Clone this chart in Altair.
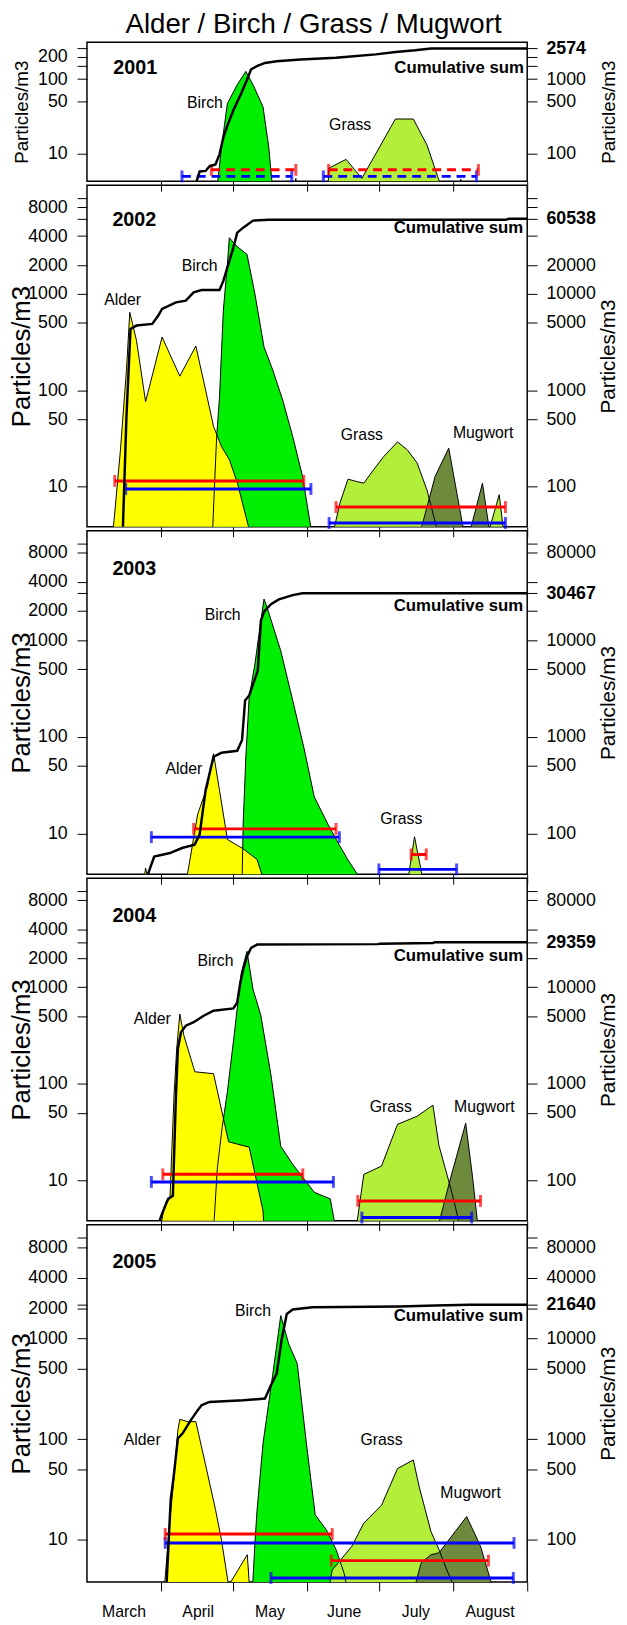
import altair as alt
import pandas as pd

FONT = "Liberation Sans"
COL = {"Alder": "#FFFF00", "Birch": "#00EE00", "Grass": "#B3EE3A", "Mugwort": "#6E8B3D"}

# x = days since 1 March
month_names = ["March", "April", "May", "June", "July", "August", ""]
month_starts = [0, 31, 61, 92, 122, 153, 184]

# ---------------- 2001 ----------------
birch01_d = [54.2, 56.2, 58.7, 62.8, 66.4, 69.4, 73.6, 76.0, 77.7, 86.3, 87.3, 87.9]
birch01_v = [3, 12, 47, 84, 127, 84, 42, 12, 3, 3, 4.6, 3]
grass01_d = [100.8, 101.0, 108.3, 114.9, 128.9, 136.4, 142.1, 148.8, 155.5, 156.2, 157.0]
grass01_v = [3, 6.3, 8.3, 4.6, 29, 29, 13, 3, 3, 4.5, 3]
cum01_d = [40.0, 45.8, 47.1, 49.6, 51.2, 53.7, 55.4, 57.0, 58.7, 61.2, 64.5, 66.9, 68.6, 71.0,
           74.4, 79.3, 89.3, 104.0, 109.0, 120.7, 129.0, 137.2, 143.8, 184]
cum01_v = [30, 42, 57, 58, 67, 71, 97, 164, 237, 380, 644, 980, 1350, 1490,
           1650, 1740, 1840, 1940, 2000, 2150, 2320, 2440, 2574, 2574]
red01 = [(52.0, 87.3, 6.0), (101.0, 163.6, 6.0)]
blue01 = [(39.7, 85.6, 4.9), (98.8, 162.8, 4.9)]

# ---------------- 2002 ----------------
alder02_d = [10.7, 14.0, 16.5, 17.9, 20.7, 24.5, 31.4, 38.8, 45.5, 49.6, 52.9, 56.2, 59.5, 62.8, 68.6]
alder02_v = [3, 24, 161, 645, 329, 76, 357, 140, 288, 100, 42, 26, 19, 11, 3]
birch02_d = [52.4, 54.2, 55.4, 57.0, 58.7, 59.5, 62.5, 66.9, 70.2, 74.0, 77.7, 81.8, 86.0, 90.1, 94.2]
birch02_v = [3, 33, 85, 676, 2040, 3850, 3160, 2580, 1000, 281, 161, 79, 33, 12.7, 3]
grass02_d = [102.5, 105.8, 109.1, 112.4, 115.7, 119.8, 124.0, 129.8, 133.9, 138.0, 142.1, 147.1,
             167.3, 172.3, 174.4]
grass02_v = [3, 6.8, 11.9, 11.3, 10.8, 14.9, 20.4, 29, 24, 17.5, 9.2, 3, 3, 8.2, 3]
mugwort02_d = [138.8, 145.5, 151.2, 157.9, 159.5, 165.3, 168.6]
mugwort02_v = [3, 12.7, 25, 3, 3, 10.8, 3]
cum02_d = [14.9, 16.5, 18.2, 20.7, 27.3, 29.8, 31.4, 37.2, 41.3, 44.6, 47.9, 55.4, 57.0, 58.7,
           61.2, 62.8, 65.3, 69.4, 76.0, 175.0, 176.5, 184]
cum02_v = [30, 530, 4340, 4700, 4890, 5970, 7000, 8200, 8520, 10400, 11000, 11000, 13700, 18900,
           30400, 43500, 49000, 58000, 59300, 59300, 60538, 60538]
red02 = [(11.6, 90.6, 11.4), (104.1, 174.9, 6.1)]
blue02 = [(16.2, 93.6, 9.4), (101.2, 174.9, 4.17)]

# ---------------- 2003 ----------------
alder03_d = [23.5, 24.5, 26.0, 41.3, 46.3, 50.4, 52.9, 55.4, 58.7, 64.8, 71.1, 74.4]
alder03_v = [3, 4.4, 3, 3, 16, 31, 67, 28, 8.7, 7.1, 5.4, 3]
birch03_d = [64.8, 65.3, 66.4, 67.8, 70.2, 71.9, 74.0, 76.0, 81.0, 86.0, 90.9, 95.0, 100.8, 105.0, 109.0, 115.7]
birch03_v = [3, 12.9, 62, 257, 566, 1150, 2660, 1920, 775, 238, 73, 24, 12.4, 8, 5.4, 3]
grass03_d = [133.9, 136.9, 140.8]
grass03_v = [3, 9.3, 3]
cum03_d = [24.0, 28.1, 34.7, 39.7, 45.0, 47.1, 49.6, 52.9, 56.2, 62.8, 64.8, 66.1, 67.8, 71.4,
           72.7, 74.0, 76.9, 80.2, 86.0, 90.0, 184]
cum03_v = [30, 58, 63, 71, 77, 98, 283, 623, 685, 718, 924, 2380, 2680, 4840,
           15900, 19700, 23500, 26400, 29200, 30467, 30467]
red03 = [(44.6, 104.1, 11.2), (135.5, 141.8, 6.1)]
blue03 = [(26.9, 105.5, 9.2), (122.0, 154.5, 4.27)]

# ---------------- 2004 ----------------
alder04_d = [30.6, 32.2, 34.7, 36.4, 37.5, 38.8, 40.5, 45.1, 52.9, 59.2, 67.8, 73.6, 74.0]
alder04_v = [3, 5.2, 6.6, 77, 231, 528, 316, 133, 127, 25, 22, 4.8, 3]
birch04_d = [52.9, 54.5, 56.5, 58.7, 61.5, 64.5, 66.9, 69.4, 72.7, 76.9, 81.0, 86.0, 95.0, 101.7, 104.1]
birch04_v = [3, 13.5, 35, 83, 316, 1410, 2360, 955, 507, 123, 22.5, 14.6, 7.5, 6.4, 3]
grass04_d = [112.4, 115.7, 123.1, 129.8, 138.0, 144.6, 147.1, 151.2, 153.7, 156.2]
grass04_v = [3, 11.5, 14, 38, 46, 60, 23, 9.8, 5.7, 3]
mugwort04_d = [146.3, 152.0, 158.3, 161.2, 163.6]
mugwort04_v = [3, 10.6, 39, 10.6, 3]
cum04_d = [28.9, 31.4, 33.9, 35.9, 37.2, 38.0, 39.3, 41.3, 44.6, 48.8, 52.9, 61.2, 62.8, 64.1,
           65.3, 66.9, 68.6, 71.1, 121.5, 122.5, 144.6, 145.5, 184]
cum04_v = [30, 45, 64, 69, 766, 2310, 3420, 4000, 4340, 5070, 5710, 6030, 6950, 11200,
           15300, 21000, 25600, 27700, 28000, 28300, 28800, 29359, 29359]
red04 = [(31.7, 90.2, 11.5), (113.2, 164.5, 6.1)]
blue04 = [(26.9, 103.0, 9.6), (114.9, 160.8, 4.1)]

# ---------------- 2005 ----------------
alder05_d = [32.2, 34.4, 36.4, 38.0, 38.8, 42.1, 45.5, 49.6, 53.7, 56.2, 59.2, 67.0, 68.1]
alder05_v = [3, 13.5, 42, 123, 157, 149, 149, 55, 20, 10, 3.5, 7.1, 3]
birch05_d = [69.1, 70.2, 71.1, 73.6, 77.7, 81.0, 84.3, 87.9, 91.7, 95.4, 100.0, 104.1, 107.4, 109.1]
birch05_v = [3, 9.3, 19.8, 91, 447, 1690, 885, 561, 91, 17.7, 12.6, 8, 4.7, 3]
grass05_d = [100.8, 102.5, 110.7, 115.7, 123.1, 129.8, 136.4, 138.8, 143.8, 147.1, 150.4, 154.5]
grass05_v = [3, 5, 8.6, 14.6, 22, 51, 62, 34, 12, 8, 5, 3]
mugwort05_d = [136.4, 139.7, 143.8, 147.1, 158.7, 164.5, 170.2]
mugwort05_v = [3, 5.9, 7.1, 7.4, 17, 8.6, 3]
cum05_d = [33.1, 35.0, 36.4, 38.0, 40.0, 43.0, 46.3, 47.9, 51.2, 65.3, 74.4, 76.9, 79.3, 81.3,
           83.5, 86.0, 94.2, 130.6, 145.5, 160.0, 184]
cum05_v = [30, 249, 457, 1016, 1140, 1490, 1940, 2170, 2340, 2430, 2530, 3430, 4470, 9550,
           17500, 19400, 20400, 20800, 21300, 21640, 21640]
red05 = [(32.7, 102.5, 11.4), (102.1, 167.8, 6.2)]
blue05 = [(32.7, 178.5, 9.3), (76.9, 178.2, 4.17)]

# text labels: (text, day, value, kind)
labels01 = [("2001", 20.2, 140, "year"), ("Cumulative sum", 182.6, 141, "cum"),
            ("Birch", 49.3, 47, "sp"), ("Grass", 110.0, 24, "sp")]
labels02 = [("2002", 19.8, 5840, "year"), ("Cumulative sum", 182.3, 4820, "cum"),
            ("Alder", 14.9, 867, "sp"), ("Birch", 47.1, 1960, "sp"),
            ("Grass", 114.9, 34, "sp"), ("Mugwort", 165.6, 36, "sp")]
labels03 = [("2003", 19.8, 5370, "year"), ("Cumulative sum", 182.3, 2250, "cum"),
            ("Birch", 56.7, 1820, "sp"), ("Alder", 40.5, 46, "sp"), ("Grass", 131.4, 14, "sp")]
labels04 = [("2004", 19.8, 5500, "year"), ("Cumulative sum", 182.3, 2130, "cum"),
            ("Alder", 27.3, 469, "sp"), ("Birch", 53.7, 1870, "sp"),
            ("Grass", 127.0, 57, "sp"), ("Mugwort", 166.1, 57, "sp")]
labels05 = [("2005", 19.8, 5700, "year"), ("Cumulative sum", 182.3, 1650, "cum"),
            ("Alder", 23.1, 98, "sp"), ("Birch", 69.4, 1890, "sp"),
            ("Grass", 123.1, 98, "sp"), ("Mugwort", 160.3, 29, "sp")]

left_ticks01 = [10, 50, 100, 150, 200, 257.4]
left_lab01 = [10, 50, 100, 200]
right_ticks01 = [100, 500, 1000, 1500, 2000, 2574]
right_lab01 = [100, 500, 1000, 2574]
left_lab = [10, 50, 100, 500, 1000, 2000, 4000, 8000]
right_base = [100, 500, 1000, 5000, 10000, 20000, 40000, 80000, 100000]

W = 446


def sdf(d, v):
    return pd.DataFrame({"d": d, "v": v})


def make_panel(height, ldom, species, cum_d, cum_v, total, reds, blues, labels,
               lticks, llab, rticks, rlab, ltitle_size, rtitle_size, last, dashed):
    xscale = alt.Scale(domain=[0, 184], nice=False, zero=False)
    if last:
        xaxis = alt.Axis(values=month_starts,
                         labelExpr="%s[indexof(%s, datum.value)]" % (month_names, month_starts),
                         tickSize=9, tickColor="black", tickWidth=1,
                         tickOpacity={"condition": {"test": "datum.value == 0", "value": 0}, "value": 1},
                         labelOffset=37, labelPadding=13, labelFontSize=16, labelFont=FONT,
                         labelColor="black", labelOverlap=False, labelFlush=False, labelBound=False,
                         domain=False, grid=False, title=None)
    else:
        xaxis = alt.Axis(values=month_starts[1:], labels=False, tickSize=10, tickColor="black",
                         tickWidth=1, domain=False, grid=False, title=None)
    X = alt.X("d:Q", scale=xscale, axis=xaxis)
    lscale = alt.Scale(type="log", domain=ldom, nice=False)
    laxis = alt.Axis(values=lticks,
                     labelExpr="indexof(%s, datum.value) >= 0 ? format(datum.value, 'd') : ''" % llab,
                     tickSize=10, tickColor="black", tickWidth=1, labelPadding=10,
                     labelFontSize=18, labelFont=FONT, labelColor="black",
                     labelOverlap=False, labelFlush=False, domain=False, grid=False,
                     title="Particles/m3", titleFont=FONT, titleFontSize=ltitle_size,
                     titleFontWeight="normal", titleColor="black",
                     titleX=-66, titleY=height / 2, titleAngle=270,
                     titleAlign="center", titleBaseline="middle")
    Y = alt.Y("v:Q", scale=lscale, axis=laxis)

    layers = []
    order = ["Birch", "Alder", "Grass", "Mugwort"]
    for sp in order:
        if sp in species:
            layers.append(alt.Chart(sdf(*species[sp])).mark_area(
                color=COL[sp], opacity=1, clip=True, interpolate="linear").encode(
                x=X, y=Y, y2=alt.datum(1)))
    for sp in order:
        if sp in species:
            layers.append(alt.Chart(sdf(*species[sp])).mark_line(
                color="black", strokeWidth=1, clip=True).encode(x=X, y=Y))
    dash = [9, 6] if dashed else [1, 0]
    for bars, col in ((blues, "#0000FF"), (reds, "#FF0000")):
        bdf = pd.DataFrame({"d": [b[0] for b in bars], "d2": [b[1] for b in bars],
                            "v": [b[2] for b in bars]})
        layers.append(alt.Chart(bdf).mark_rule(color=col, strokeWidth=3, strokeDash=dash).encode(
            x=X, x2="d2:Q", y=Y))
        cdf = pd.DataFrame({"d": [b[0] for b in bars] + [b[1] for b in bars],
                            "v": [b[2] for b in bars] * 2})
        layers.append(alt.Chart(cdf).mark_tick(orient="vertical", color=col, size=12,
                                               thickness=3).encode(x=X, y=Y))
    for kind, size, weight, align in (("year", 20, "bold", "center"), ("cum", 17, "bold", "right"),
                                      ("sp", 16, "normal", "center")):
        tl = [l for l in labels if l[3] == kind]
        tdf = pd.DataFrame({"t": [l[0] for l in tl], "d": [l[1] for l in tl], "v": [l[2] for l in tl]})
        layers.append(alt.Chart(tdf).mark_text(font=FONT, fontSize=size, fontWeight=weight,
                                               align=align, baseline="middle", color="black").encode(
            x=X, y=Y, text="t:N"))
    left = alt.layer(*layers)

    rdom = [ldom[0] * 10, ldom[1] * 10]
    raxis = alt.Axis(orient="right", values=rticks,
                     labelExpr="indexof(%s, datum.value) >= 0 ? format(datum.value, 'd') : ''" % rlab,
                     labelFontWeight={"condition": {"test": "datum.value == %s" % total, "value": "bold"},
                                      "value": "normal"},
                     tickSize=10, tickColor="black", tickWidth=1, labelPadding=9,
                     labelFontSize=18, labelFont=FONT, labelColor="black",
                     labelOverlap=False, labelFlush=False, domain=False, grid=False,
                     title="Particles/m3", titleFont=FONT, titleFontSize=rtitle_size,
                     titleFontWeight="normal", titleColor="black",
                     titleX=82, titleY=height / 2, titleAngle=270,
                     titleAlign="center", titleBaseline="middle")
    cum = alt.Chart(sdf(cum_d, cum_v)).mark_line(color="black", strokeWidth=2.5, clip=True).encode(
        x=X, y=alt.Y("v:Q", scale=alt.Scale(type="log", domain=rdom, nice=False), axis=raxis))
    return alt.layer(left, cum).resolve_scale(y="independent").properties(width=W, height=height)


dom = [3.8, 13500]
p01 = make_panel(141, [4.2, 314],
                 {"Birch": (birch01_d, birch01_v), "Grass": (grass01_d, grass01_v)},
                 cum01_d, cum01_v, 2574, red01, blue01, labels01,
                 left_ticks01, left_lab01, right_ticks01, right_lab01, 19, 19, False, True)
p02 = make_panel(346, dom,
                 {"Alder": (alder02_d, alder02_v), "Birch": (birch02_d, birch02_v),
                  "Grass": (grass02_d, grass02_v), "Mugwort": (mugwort02_d, mugwort02_v)},
                 cum02_d, cum02_v, 60538, red02, blue02, labels02,
                 [10, 50, 100, 500, 1000, 2000, 4000, 6053.8, 8000, 10000], left_lab,
                 right_base + [60538], [100, 500, 1000, 5000, 10000, 20000, 60538], 26, 21, False, False)
p03 = make_panel(348, dom,
                 {"Alder": (alder03_d, alder03_v), "Birch": (birch03_d, birch03_v),
                  "Grass": (grass03_d, grass03_v)},
                 cum03_d, cum03_v, 30467, red03, blue03, labels03,
                 [10, 50, 100, 500, 1000, 2000, 3046.7, 4000, 8000, 10000], left_lab,
                 right_base + [30467], [100, 500, 1000, 5000, 10000, 30467, 80000], 26, 21, False, False)
p04 = make_panel(347, dom,
                 {"Alder": (alder04_d, alder04_v), "Birch": (birch04_d, birch04_v),
                  "Grass": (grass04_d, grass04_v), "Mugwort": (mugwort04_d, mugwort04_v)},
                 cum04_d, cum04_v, 29359, red04, blue04, labels04,
                 [10, 50, 100, 500, 1000, 2000, 2935.9, 4000, 8000, 10000], left_lab,
                 right_base + [29359], [100, 500, 1000, 5000, 10000, 29359, 80000], 26, 21, False, False)
p05 = make_panel(362, dom,
                 {"Alder": (alder05_d, alder05_v), "Birch": (birch05_d, birch05_v),
                  "Grass": (grass05_d, grass05_v), "Mugwort": (mugwort05_d, mugwort05_v)},
                 cum05_d, cum05_v, 21640, red05, blue05, labels05,
                 [10, 50, 100, 500, 1000, 2000, 2164, 4000, 8000, 10000], left_lab,
                 right_base + [21640], [100, 500, 1000, 5000, 10000, 21640, 40000, 80000], 26, 21, True, False)

chart = alt.vconcat(p01, p02, p03, p04, p05, spacing=4, bounds="flush").properties(
    title=alt.TitleParams("Alder / Birch / Grass / Mugwort", font=FONT, fontSize=28,
                          fontWeight="normal", color="black", anchor="middle", offset=0),
    padding={"left": 0, "top": -8, "right": 0, "bottom": 0},
).configure_view(stroke="black", strokeWidth=1.5)

chart.save("out.html", embed_options={"renderer": "svg", "actions": False})
